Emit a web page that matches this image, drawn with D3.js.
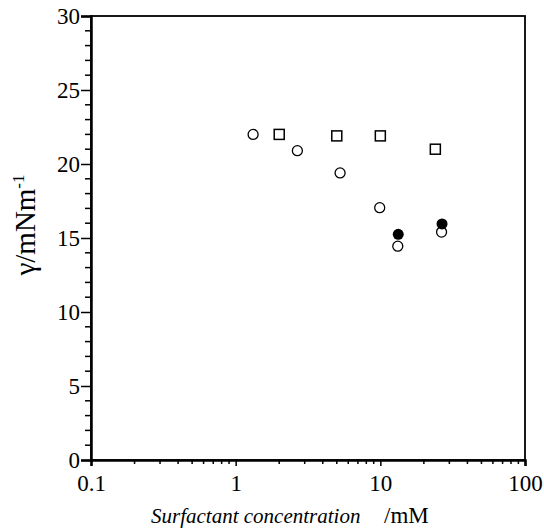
<!DOCTYPE html>
<html>
<head>
<meta charset="utf-8">
<script src="https://cdn.jsdelivr.net/npm/d3@7"></script>
<style>
  body { margin: 0; background: #fff; }
</style>
</head>
<body>
<svg id="chart" width="544" height="530"></svg>
<script>
// open circles
var openConc = [1.32, 2.67, 5.27, 9.9, 13.2, 26.5];
var openGamma = [22.0, 20.9, 19.4, 17.05, 14.45, 15.4];
// filled circles
var filledConc = [13.3, 26.7];
var filledGamma = [15.25, 15.95];
// open squares
var squareConc = [2.0, 5.0, 10.0, 24.0];
var squareGamma = [22.0, 21.9, 21.9, 21.0];

var xTicks = [0.1, 1, 10, 100];
var yTicks = [0, 5, 10, 15, 20, 25, 30];

var serif = "Liberation Serif";

var margin = {top: 16, right: 19, bottom: 70, left: 91},
    width = 544 - margin.left - margin.right,
    height = 530 - margin.top - margin.bottom;

var svg = d3.select("#chart")
  .append("g")
  .attr("transform", "translate(" + margin.left + "," + margin.top + ")");

var x = d3.scaleLog().domain([0.1, 100]).range([0, width]);
var y = d3.scaleLinear().domain([0, 30]).range([height, 0]);

// frame
svg.append("rect")
  .attr("width", width).attr("height", height)
  .attr("fill", "none").attr("stroke", "#000").attr("stroke-width", 1.8);

// minor ticks
var xMinor = [];
[0.1, 1, 10].forEach(function(d) {
  for (var k = 2; k <= 9; k++) xMinor.push(d * k);
});
svg.selectAll("line.xminor").data(xMinor).enter().append("line")
  .attr("x1", function(d) { return x(d); }).attr("x2", function(d) { return x(d); })
  .attr("y1", height).attr("y2", height + 4)
  .attr("stroke", "#000").attr("stroke-width", 1.5);

var yMinor = d3.range(0, 31).filter(function(d) { return d % 5 != 0; });
svg.selectAll("line.yminor").data(yMinor).enter().append("line")
  .attr("x1", -6).attr("x2", 0)
  .attr("y1", function(d) { return y(d); }).attr("y2", function(d) { return y(d); })
  .attr("stroke", "#000").attr("stroke-width", 1.5);

// axes
var xAxis = svg.append("g")
  .attr("transform", "translate(0," + height + ")")
  .call(d3.axisBottom(x).tickValues(xTicks).tickSize(6).tickPadding(9)
    .tickFormat(function(d) { return d; }));
var yAxis = svg.append("g")
  .call(d3.axisLeft(y).tickValues(yTicks).tickSize(10).tickPadding(1));

[xAxis, yAxis].forEach(function(a) {
  a.attr("font-family", serif).attr("font-size", 23);
  a.select(".domain").attr("stroke-width", 2.5);
  a.selectAll(".tick line").attr("stroke-width", 1.5);
});

// points
svg.selectAll("circle.open").data(openConc).enter().append("circle")
  .attr("cx", function(d) { return x(d); })
  .attr("cy", function(d, i) { return y(openGamma[i]); })
  .attr("r", 5).attr("fill", "#fff").attr("stroke", "#000").attr("stroke-width", 1.3);

svg.selectAll("circle.filled").data(filledConc).enter().append("circle")
  .attr("cx", function(d) { return x(d); })
  .attr("cy", function(d, i) { return y(filledGamma[i]); })
  .attr("r", 5.5).attr("fill", "#000");

svg.selectAll("rect.sq").data(squareConc).enter().append("rect")
  .attr("x", function(d) { return x(d) - 5; })
  .attr("y", function(d, i) { return y(squareGamma[i]) - 5; })
  .attr("width", 10).attr("height", 10)
  .attr("fill", "#fff").attr("stroke", "#000").attr("stroke-width", 1.5);

// axis titles
svg.append("text")
  .attr("x", 151 - margin.left).attr("y", height + 63)
  .attr("font-family", serif).attr("font-size", 21).attr("font-style", "italic")
  .text("Surfactant concentration");
svg.append("text")
  .attr("x", 384 - margin.left).attr("y", height + 63)
  .attr("font-family", serif).attr("font-size", 23)
  .text("/mM");

var yt = svg.append("text")
  .attr("transform", "translate(-56,209) rotate(-90)")
  .attr("text-anchor", "middle")
  .attr("font-family", serif).attr("font-size", 29);
yt.append("tspan").text("\u03b3/mNm");
yt.append("tspan").attr("dy", -11).attr("font-size", 17).text("-1");
</script>
</body>
</html>
